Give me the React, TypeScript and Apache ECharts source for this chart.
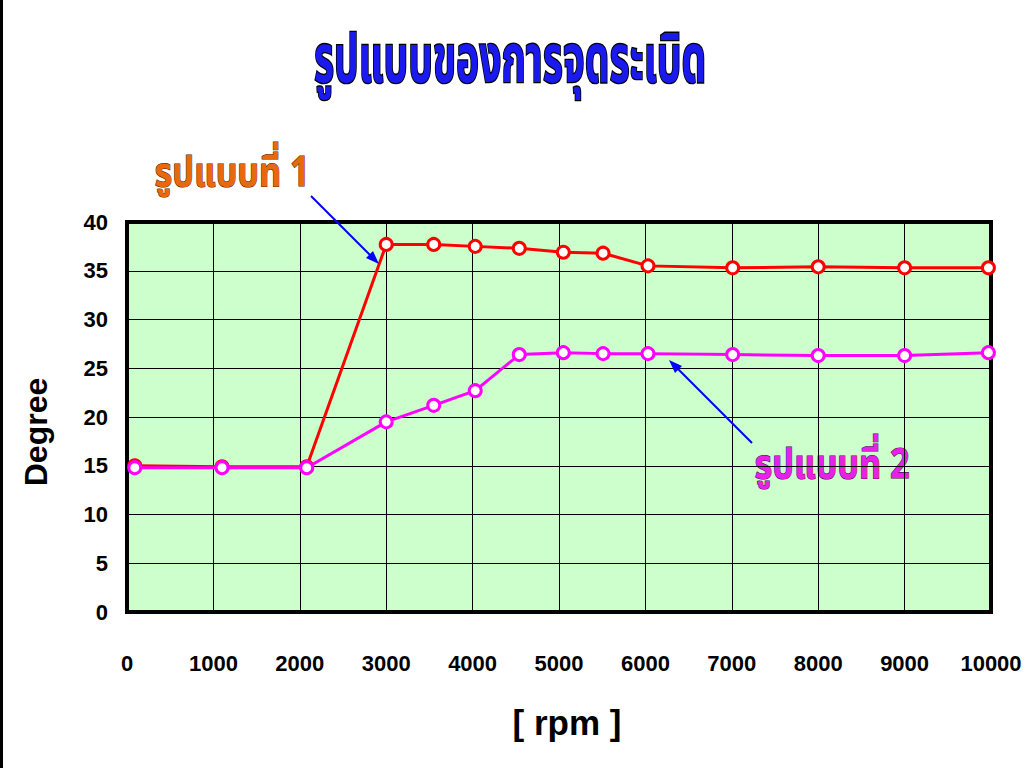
import React, { useEffect, useRef } from "react";
import * as echarts from "echarts";

const rpm1 = [90, 1100, 2080, 3000, 3550, 4030, 4540, 5050, 5510, 6030, 7010, 8000, 9000, 9970];
const pattern1 = [15.0, 14.9, 14.9, 37.7, 37.7, 37.5, 37.3, 36.9, 36.8, 35.5, 35.3, 35.4, 35.3, 35.3];
const rpm2 = [90, 1100, 2080, 3000, 3550, 4030, 4540, 5050, 5510, 6030, 7010, 8000, 9000, 9970];
const pattern2 = [14.8, 14.8, 14.8, 19.5, 21.2, 22.7, 26.4, 26.6, 26.5, 26.5, 26.4, 26.3, 26.3, 26.6];
const xTicks = [0, 1000, 2000, 3000, 4000, 5000, 6000, 7000, 8000, 9000, 10000];
const yTicks = [0, 5, 10, 15, 20, 25, 30, 35, 40];

const titleText = "รูปแบบของการจุดระเบิด";
const label1 = "รูปแบบที่ 1";
const label2 = "รูปแบบที่ 2";
const xName = "[ rpm ]";
const yName = "Degree";

const thaiFont = "'Noto Sans Thai', 'Noto Sans', 'DejaVu Sans', sans-serif";
const numFont = "Arial, 'Liberation Sans', sans-serif";

export default function App() {
  const ref = useRef<HTMLDivElement>(null);
  useEffect(() => {
    if (!ref.current) return;
    const chart = echarts.init(ref.current, undefined, { renderer: "svg" });
    const pair = (xs: number[], ys: number[]) => xs.map((x, i) => [x, ys[i]]);
    chart.setOption({
      animation: false,
      backgroundColor: "#ffffff",
      grid: {
        left: 127,
        right: 34,
        top: 222,
        height: 390,
        show: true,
        backgroundColor: "#ccffcc",
        borderColor: "#000000",
        borderWidth: 4,
      },
      xAxis: {
        type: "value",
        min: xTicks[0],
        max: xTicks[xTicks.length - 1],
        interval: 1000,
        axisLine: { show: false },
        axisTick: { show: false },
        splitLine: { show: true, lineStyle: { color: "#000000", width: 1 } },
        axisLabel: {
          margin: 40,
          fontSize: 22,
          fontWeight: "bold",
          fontFamily: numFont,
          color: "#000000",
          formatter: (v: number) => String(v),
        },
      },
      yAxis: {
        type: "value",
        min: yTicks[0],
        max: yTicks[yTicks.length - 1],
        interval: 5,
        axisLine: { show: false },
        axisTick: { show: false },
        splitLine: { show: true, lineStyle: { color: "#000000", width: 1 } },
        axisLabel: {
          margin: 19,
          fontSize: 22,
          fontWeight: "bold",
          fontFamily: numFont,
          color: "#000000",
        },
      },
      series: [
        {
          type: "line",
          name: label1,
          data: pair(rpm1, pattern1),
          lineStyle: { color: "#ff0000", width: 3 },
          symbol: "circle",
          symbolSize: 12,
          itemStyle: { color: "#ffffff", borderColor: "#ff0000", borderWidth: 3 },
          z: 3,
        },
        {
          type: "line",
          name: label2,
          data: pair(rpm2, pattern2),
          lineStyle: { color: "#ff00ff", width: 3 },
          symbol: "circle",
          symbolSize: 12,
          itemStyle: { color: "#ffffff", borderColor: "#ff00ff", borderWidth: 3 },
          z: 4,
        },
      ],
      graphic: [
        {
          type: "text",
          x: 510,
          y: 62,
          scaleX: 0.78,
          scaleY: 1.35,
          style: {
            text: titleText,
            font: `bold 50px ${thaiFont}`,
            fill: "#1a1aee",
            stroke: "#000000",
            lineWidth: 2,
            align: "center",
            verticalAlign: "middle",
          },
        },
        {
          type: "text",
          x: 232,
          y: 173,
          scaleX: 0.95,
          scaleY: 1.15,
          style: {
            text: label1,
            font: `bold 36px ${thaiFont}`,
            fill: "#e8680c",
            stroke: "#5a2000",
            lineWidth: 1,
            align: "center",
            verticalAlign: "middle",
          },
        },
        {
          type: "text",
          x: 832,
          y: 465,
          scaleX: 0.95,
          scaleY: 1.15,
          style: {
            text: label2,
            font: `bold 36px ${thaiFont}`,
            fill: "#e820e8",
            stroke: "#4a0a4a",
            lineWidth: 1,
            align: "center",
            verticalAlign: "middle",
          },
        },
        {
          type: "line",
          shape: { x1: 311, y1: 196, x2: 372, y2: 257 },
          style: { stroke: "#0000ff", lineWidth: 2 },
          z: 10,
        },
        {
          type: "polygon",
          shape: { points: [[379, 264], [366, 258], [373, 251]] },
          style: { fill: "#0000ff" },
          z: 10,
        },
        {
          type: "line",
          shape: { x1: 752, y1: 443, x2: 676, y2: 367 },
          style: { stroke: "#0000ff", lineWidth: 2 },
          z: 10,
        },
        {
          type: "polygon",
          shape: { points: [[669, 360], [682, 366], [675, 373]] },
          style: { fill: "#0000ff" },
          z: 10,
        },
        {
          type: "text",
          x: 567,
          y: 722,
          style: {
            text: xName,
            font: `bold 35px ${numFont}`,
            fill: "#000000",
            align: "center",
            verticalAlign: "middle",
          },
        },
        {
          type: "text",
          x: 36,
          y: 432,
          rotation: Math.PI / 2,
          style: {
            text: yName,
            font: `bold 32px ${numFont}`,
            fill: "#000000",
            align: "center",
            verticalAlign: "middle",
          },
        },
        {
          type: "rect",
          shape: { x: 0, y: 0, width: 3, height: 768 },
          style: { fill: "#000000" },
        },
      ],
    });
    return () => chart.dispose();
  }, []);
  return (
    <div
      ref={ref}
      style={{ position: "absolute", left: 0, top: 0, width: 1025, height: 768 }}
    />
  );
}
